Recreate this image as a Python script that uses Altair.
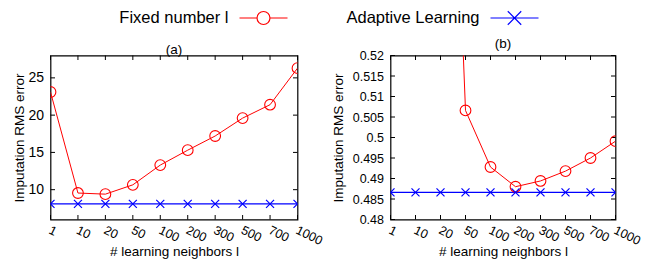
import altair as alt
import pandas as pd

# ---------------- data ----------------
neighbors = ["1", "10", "20", "50", "100", "200", "300", "500", "700", "1000"]
series_names = ["Fixed number l", "Adaptive Learning"]
series_colors = ["#ff0000", "#0000ff"]

fixed_a = [23.1, 9.55, 9.4, 10.65, 13.3, 15.3, 17.2, 19.6, 21.4, 26.3]
adaptive_a = [8.1, 8.1, 8.1, 8.1, 8.1, 8.1, 8.1, 8.1, 8.1, 8.1]

fixed_b = [0.78, 0.70, 0.66, 0.5066, 0.4928, 0.4880, 0.4894, 0.4918, 0.4950, 0.4991]
adaptive_b = [0.4866, 0.4866, 0.4866, 0.4866, 0.4866, 0.4866, 0.4866, 0.4866, 0.4866, 0.4866]

yticks_a = [10, 15, 20, 25]
yticks_b = [0.48, 0.485, 0.49, 0.495, 0.5, 0.505, 0.51, 0.515, 0.52]
ydomain_a = [6, 28]
ydomain_b = [0.48, 0.52]

FONT = "Liberation Sans"

# legend symbols: line with marker (gnuplot style, key text on the left)
legend_paths = [
    "M-1,0L-0.27,0M0.27,0L1,0M-0.27,0A0.27,0.27,0,1,1,0.27,0A0.27,0.27,0,1,1,-0.27,0",
    "M-1,0L1,0M-0.28,-0.28L0.28,0.28M-0.28,0.28L0.28,-0.28",
]
cross_path = "M-1,-1L1,1M-1,1L1,-1"


def make_df(fixed, adaptive):
    rows = []
    for n, v in zip(neighbors, fixed):
        rows.append({"n": n, "v": v, "s": series_names[0]})
    for n, v in zip(neighbors, adaptive):
        rows.append({"n": n, "v": v, "s": series_names[1]})
    return pd.DataFrame(rows)


color_scale = alt.Scale(domain=series_names, range=series_colors)


def panel(df, yticks, ydomain, W, H, title, ylab_size, ytitle_x):
    x_enc = alt.X(
        "n:O",
        sort=neighbors,
        scale=alt.Scale(type="point", padding=0),
        axis=alt.Axis(
            title="# learning neighbors l",
            labelAngle=26,
            labelAlign="left",
            labelBaseline="top",
            labelFontSize=12.5,
            labelPadding=4,
            labelOffset=1.5,
            labelColor="black",
            titleFontSize=13.5,
            titleFontWeight="normal",
            titleColor="black",
            titleY=25,
            titleBaseline="top",
            ticks=False,
            tickSize=0,
            domain=False,
            grid=False,
        ),
    )
    y_enc = alt.Y(
        "v:Q",
        scale=alt.Scale(domain=ydomain, nice=False, zero=False),
        axis=alt.Axis(
            title="Imputation RMS error",
            values=yticks,
            format="~g",
            labelFontSize=ylab_size,
            labelPadding=7,
            labelColor="black",
            titleFontSize=13.5,
            titleFontWeight="normal",
            titleColor="black",
            titleX=ytitle_x,
            titleBaseline="middle",
            ticks=False,
            tickSize=0,
            domain=False,
            grid=False,
        ),
    )
    col = alt.Color("s:N", scale=color_scale, legend=None)

    base = alt.Chart(df).encode(x=x_enc, y=y_enc, color=col)
    fixed_sel = alt.datum.s == series_names[0]
    adapt_sel = alt.datum.s == series_names[1]

    line_f = base.transform_filter(fixed_sel).mark_line(strokeWidth=1, clip=True)
    line_a = base.transform_filter(adapt_sel).mark_line(strokeWidth=1.3, clip=True)
    pts_f = base.transform_filter(fixed_sel).mark_point(
        shape="circle", size=115, filled=False, strokeWidth=1.1, opacity=1, clip=True
    )
    pts_a = base.transform_filter(adapt_sel).mark_point(
        shape=cross_path, size=64, filled=False, strokeWidth=1.2, opacity=1, clip=True
    )

    ytick_df = pd.DataFrame({"v": yticks})
    xtick_df = pd.DataFrame({"n": neighbors})
    tl = alt.Chart(ytick_df).mark_rule(color="black", strokeWidth=1).encode(
        y=y_enc, x=alt.value(0), x2=alt.value(4.5)
    )
    tr = alt.Chart(ytick_df).mark_rule(color="black", strokeWidth=1).encode(
        y=y_enc, x=alt.value(W - 4.5), x2=alt.value(W)
    )
    tb = alt.Chart(xtick_df).mark_rule(color="black", strokeWidth=1).encode(
        x=x_enc, y=alt.value(H - 4.5), y2=alt.value(H)
    )
    tt = alt.Chart(xtick_df).mark_rule(color="black", strokeWidth=1).encode(
        x=x_enc, y=alt.value(0), y2=alt.value(4.5)
    )

    return alt.layer(tl, tr, tb, tt, line_f, line_a, pts_f, pts_a).properties(
        width=W,
        height=H,
        title=alt.TitleParams(
            text=title,
            fontSize=13.5,
            fontWeight="normal",
            font=FONT,
            color="black",
            offset=2,
            dy=3,
            anchor="middle",
        ),
    )


# ---------------- legend row (key text left of sample) ----------------
leg_df = pd.DataFrame({"s": series_names})
leg_x = alt.X(
    "s:N",
    sort=series_names,
    scale=alt.Scale(type="point", domain=series_names, range=[213, 464], padding=0),
    axis=None,
)
leg_text = alt.Chart(leg_df).mark_text(
    align="right", baseline="middle", dx=-35, fontSize=16.5, font=FONT, color="black"
).encode(x=leg_x, y=alt.value(8), text="s:N")
leg_sym = alt.Chart(leg_df).mark_point(
    filled=False, size=2304, strokeWidth=1.2, opacity=1
).encode(
    x=leg_x,
    y=alt.value(8),
    color=alt.Color("s:N", scale=color_scale, legend=None),
    shape=alt.Shape("s:N", scale=alt.Scale(domain=series_names, range=legend_paths), legend=None),
)
legend_row = alt.layer(leg_text, leg_sym).properties(
    width=565, height=16, view=alt.ViewBackground(strokeOpacity=0)
)

pa = panel(make_df(fixed_a, adaptive_a), yticks_a, ydomain_a, 247, 164, "(a)", 14, -31)
pb = panel(make_df(fixed_b, adaptive_b), yticks_b, ydomain_b, 225, 164, "(b)", 12.5, -52)

panels = alt.hconcat(pa, pb, spacing=93, bounds="flush")

chart = (
    alt.vconcat(legend_row, panels, spacing=29.5, bounds="flush")
    .properties(padding={"left": 3.5, "top": 0, "right": 0, "bottom": 0})
    .configure(font=FONT)
    .configure_view(stroke="black", strokeWidth=1.2)
    .configure_axis(labelFont=FONT, titleFont=FONT)
)

chart.save("out.html", embed_options={"renderer": "svg", "actions": False})
